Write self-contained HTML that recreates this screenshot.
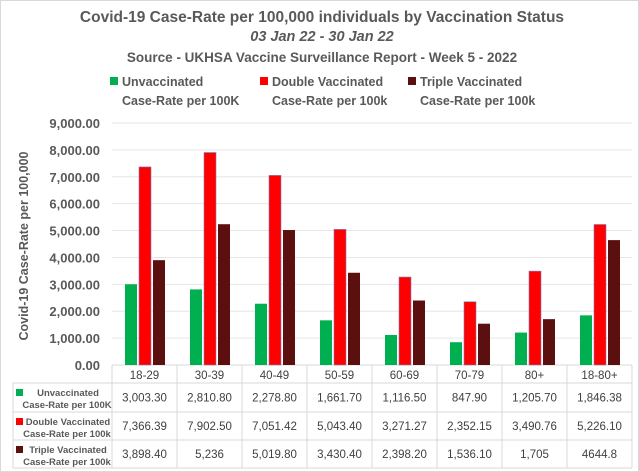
<!DOCTYPE html>
<html><head><meta charset="utf-8"><style>
body{margin:0;background:#fff;}
svg{display:block;font-family:"Liberation Sans",sans-serif;}
</style></head><body>
<svg id="c" width="639" height="472">
<rect x="0.5" y="0.5" width="638" height="471" fill="#fff" stroke="#d9d9d9"/>
<g fill="#595959" font-weight="bold" text-anchor="middle">
<text x="322" y="22" font-size="15.5">Covid-19 Case-Rate per 100,000 individuals by Vaccination Status</text>
<text x="322" y="41" font-size="14.5" font-style="italic">03 Jan 22 - 30 Jan 22</text>
<text x="322" y="62" font-size="13.5">Source - UKHSA Vaccine Surveillance Report - Week 5 - 2022</text>
</g>
<g id="legend" font-size="12.5" font-weight="bold" fill="#595959"></g>
<g id="grid"></g>
<g id="bars"></g>
<g id="table"></g>
<text transform="translate(28,246) rotate(-90)" text-anchor="middle" font-size="12.5" font-weight="bold" fill="#595959">Covid-19 Case-Rate per 100,000</text>
</svg>
<script>
const categories=["18-29","30-39","40-49","50-59","60-69","70-79","80+","18-80+"];
const unvax=[3003.30,2810.80,2278.80,1661.70,1116.50,847.90,1205.70,1846.38];
const dbl=[7366.39,7902.50,7051.42,5043.40,3271.27,2352.15,3490.76,5226.10];
const tpl=[3898.40,5236,5019.80,3430.40,2398.20,1536.10,1705,4644.8];
const unvaxLabels=["3,003.30","2,810.80","2,278.80","1,661.70","1,116.50","847.90","1,205.70","1,846.38"];
const dblLabels=["7,366.39","7,902.50","7,051.42","5,043.40","3,271.27","2,352.15","3,490.76","5,226.10"];
const tplLabels=["3,898.40","5,236","5,019.80","3,430.40","2,398.20","1,536.10","1,705","4644.8"];
const yTicks=[0,1000,2000,3000,4000,5000,6000,7000,8000,9000];
const NS="http://www.w3.org/2000/svg";
const x0=112,cw=65,yBase=365,yTop=123,yMax=9000;
const y=v=>yBase-(v/yMax)*(yBase-yTop);
const xc=i=>x0+i*cw;
function mk(tag,attrs,parent,text){const e=document.createElementNS(NS,tag);for(const k in attrs)e.setAttribute(k,attrs[k]);if(text!==undefined)e.textContent=text;parent.appendChild(e);return e;}
const grid=document.getElementById('grid');
yTicks.forEach(t=>{
 const l=mk('line',{x1:x0,x2:x0+8*cw,y1:y(t),y2:y(t),stroke:t===0?'#d9d9d9':'#e6e6e6'},grid);
 
 
 const tx=mk('text',{x:100,y:y(t)+5,'text-anchor':'end','font-size':'13','font-weight':'bold',fill:'#595959'},grid,t.toLocaleString('en-US',{minimumFractionDigits:2}));
 
 
});
const colors=['#00b050','#ff0000','#5c0f0f'];
const series=[unvax,dbl,tpl];
const bars=document.getElementById('bars');
categories.forEach((c,i)=>{
 series.forEach((s,j)=>{
  const r=mk('rect',{x:xc(i)+13+j*14,y:y(s[i]),width:12,height:yBase-y(s[i]),fill:colors[j],stroke:j===1?'#7f7fbf':'none','stroke-width':j===1?0.6:0},bars);
  
  
 });
});
const lg=document.getElementById('legend');
const legTxt=[["Unvaccinated","Case-Rate per 100K"],["Double Vaccinated","Case-Rate per 100k"],["Triple Vaccinated","Case-Rate per 100k"]];
const legX=[110,260,408];
legTxt.forEach((t,j)=>{
 const g=mk('g',{},lg);
 
 
 mk('rect',{x:legX[j],y:77,width:8,height:8,fill:colors[j]},g);
 mk('text',{x:legX[j]+12,y:86},g,t[0]);
 mk('text',{x:legX[j]+12,y:105},g,t[1]);
});
const tb=document.getElementById('table');
const rowsY=[365,383,412,440,468];
const ln=(a,b,c,d)=>mk('line',{x1:a,y1:b,x2:c,y2:d,stroke:'#d9d9d9'},tb);
ln(13,383,x0+8*cw,383);ln(13,412,x0+8*cw,412);ln(13,440,x0+8*cw,440);ln(13,468,x0+8*cw,468);
ln(13,383,13,468);
for(let i=0;i<=8;i++)ln(xc(i),365,xc(i),468);
categories.forEach((c,i)=>{
 const t=mk('text',{x:xc(i)+cw/2,y:379,'text-anchor':'middle','font-size':'11.5',fill:'#404040'},tb,c);
 
 
});
const labs=[unvaxLabels,dblLabels,tplLabels];
labs.forEach((arr,j)=>{
 const cy=(rowsY[j+1]+rowsY[j+2])/2+4;
 arr.forEach((v,i)=>{
  const t=mk('text',{x:xc(i)+cw/2,y:cy,'text-anchor':'middle','font-size':'11.5',fill:'#404040'},tb,v);
  
  
 });
 const top=rowsY[j+1];
 mk('rect',{x:16,y:top+6,width:7,height:7,fill:colors[j]},tb);
 const h=mk('text',{x:68,y:top+13,'text-anchor':'middle','font-size':'9.5','font-weight':'bold',fill:'#595959'},tb,legTxt[j][0]);
 
 
 mk('text',{x:67,y:top+25,'text-anchor':'middle','font-size':'9.5','font-weight':'bold',fill:'#595959'},tb,legTxt[j][1]);
});
</script>
</body></html>
